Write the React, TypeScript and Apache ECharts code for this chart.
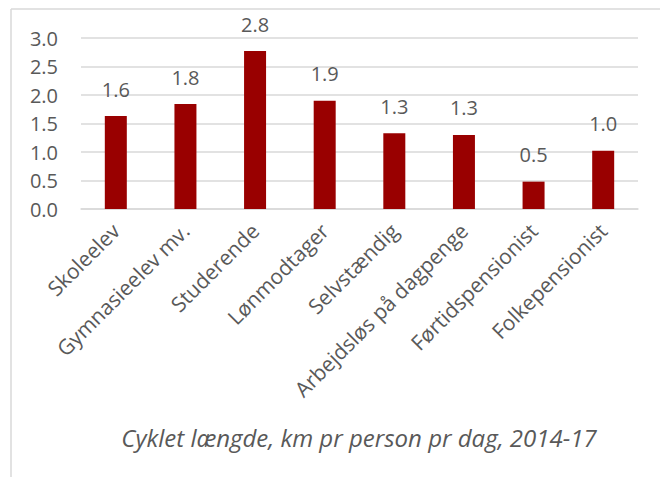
import React, { useEffect, useRef } from "react";
import * as echarts from "echarts";

const categories = [
  "Skoleelev",
  "Gymnasieelev mv.",
  "Studerende",
  "Lønmodtager",
  "Selvstændig",
  "Arbejdsløs på dagpenge",
  "Førtidspensionist",
  "Folkepensionist",
];
const values = [1.63, 1.84, 2.77, 1.9, 1.33, 1.3, 0.48, 1.02];
const yTicks = { min: 0, max: 3, interval: 0.5 };
const caption = "Cyklet længde, km pr person pr dag, 2014-17";

const FONT = "Open Sans";
const TEXT = "#595959";

export default function App() {
  const ref = useRef<HTMLDivElement>(null);
  useEffect(() => {
    if (!ref.current) return;
    const chart = echarts.init(ref.current, null, { renderer: "svg" });
    chart.setOption({
      animation: false,
      backgroundColor: "#ffffff",
      grid: { left: 81, right: 22, top: 38, bottom: 268, containLabel: false },
      xAxis: {
        type: "category",
        data: categories,
        axisTick: { show: false },
        axisLine: { show: true, lineStyle: { color: "#d9d9d9", width: 1.5 } },
        axisLabel: {
          interval: 0,
          rotate: 45,
          margin: 18,
          color: TEXT,
          fontFamily: FONT,
          fontSize: 21,
        },
      },
      yAxis: {
        type: "value",
        min: yTicks.min,
        max: yTicks.max,
        interval: yTicks.interval,
        axisLine: { show: false },
        axisTick: { show: false },
        splitLine: { lineStyle: { color: "#d9d9d9", width: 1.5 } },
        axisLabel: {
          margin: 23,
          color: TEXT,
          fontFamily: FONT,
          fontSize: 20,
          formatter: (v: number) => v.toFixed(1),
        },
      },
      series: [
        {
          type: "bar",
          data: values,
          barWidth: 22,
          itemStyle: { color: "#990000" },
          label: {
            show: true,
            position: "top",
            distance: 17,
            color: TEXT,
            fontFamily: FONT,
            fontSize: 20,
            formatter: (p: any) => Number(p.value).toFixed(1),
          },
        },
      ],
      graphic: [
        {
          type: "line",
          shape: { x1: 11, y1: 9, x2: 660, y2: 9 },
          style: { stroke: "#d9d9d9", lineWidth: 1.5 },
        },
        {
          type: "line",
          shape: { x1: 11, y1: 9, x2: 11, y2: 477 },
          style: { stroke: "#d9d9d9", lineWidth: 1.5 },
        },
        {
          type: "text",
          x: 359,
          y: 437,
          style: {
            text: caption,
            fill: TEXT,
            font: `italic 24px "${FONT}"`,
            align: "center",
            verticalAlign: "middle",
          },
        },
      ],
    });
    return () => chart.dispose();
  }, []);
  return (
    <div
      ref={ref}
      style={{ position: "absolute", left: 0, top: 0, width: 660, height: 477 }}
    />
  );
}
